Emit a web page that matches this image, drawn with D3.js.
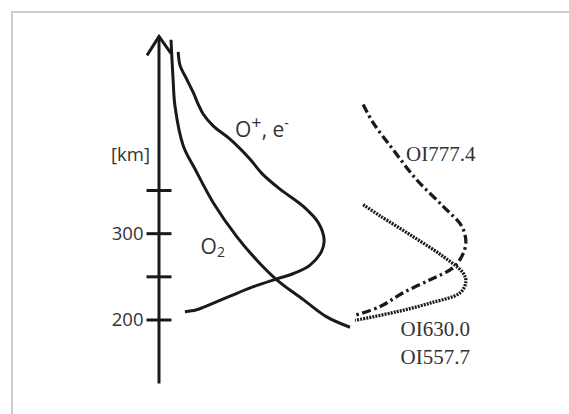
<!DOCTYPE html>
<html>
<head>
<meta charset="utf-8">
<script src="https://cdn.jsdelivr.net/npm/d3@7"></script>
<style>
    body {margin: 0; background: #fff;}
    svg {display: block;}
</style>
</head>
<body>
<div id="chart"></div>
<script>
// altitude axis (km)
const altitudeTicks = [200, 250, 300, 350];
const altitudeTickLabels = ["200", "", "300", ""];
const altitudeExtent = [126, 528];

// relative density / emission (arbitrary units) against altitude [value, km]
const o2Density = [[3.75, 524], [4.4, 478], [5.0, 447], [7.6, 401], [11.3, 374], [17.0, 335],
    [24.3, 296], [30.5, 269], [36.8, 246], [45.1, 223], [52.4, 203], [59.7, 191]];
const oPlusDensity = [[6.0, 510], [6.6, 494], [8.7, 478], [10.7, 463], [12.3, 449], [13.8, 438],
    [17.0, 424], [22.2, 409], [28.4, 386], [32.2, 369], [37.8, 351], [45.1, 331], [49.8, 312],
    [51.6, 292], [50.8, 279], [47.2, 263], [41.9, 253], [36.8, 247], [29.5, 238], [22.2, 227],
    [17.0, 219], [13.8, 214], [11.5, 211], [8.1, 209]];
const oi7774 = [[63.8, 449], [66.9, 428], [73.1, 397], [80.5, 362], [88.8, 331], [94.6, 308],
    [95.9, 289], [94.6, 273], [91.9, 260], [84.7, 246], [76.3, 231], [69.1, 215], [61.3, 205]];
const oi6300 = [[63.8, 333], [69.1, 320], [79.4, 296], [88.8, 273], [95, 254], [95.9, 244],
    [94.1, 231], [84.7, 219], [74.3, 209], [61.3, 199]];

const width = 569, height = 414;
const ink = "#1a1a1a", textInk = "#333";

let svg = d3.select("#chart").append("svg")
    .attr("width", width).attr("height", height)
    .style("font-family", "'Open Sans', sans-serif");

svg.append("rect").attr("width", width).attr("height", height).attr("fill", "#fff");

//Frame
svg.append("rect")
    .attr("x", 12).attr("y", 12)
    .attr("width", 600).attr("height", 600)
    .attr("fill", "none").attr("stroke", "#cdcdcd").attr("stroke-width", 2);

//Scales
let x = d3.scaleLinear().domain([0, 100]).range([159, 479]);
let y = d3.scaleLinear().domain([200, 350]).range([319.5, 190]);

//Axis line + open arrow head
const axisX = x(0);
svg.append("line")
    .attr("x1", axisX).attr("x2", axisX)
    .attr("y1", y(altitudeExtent[0])).attr("y2", y(altitudeExtent[1]))
    .attr("stroke", ink).attr("stroke-width", 3);

const tipY = y(altitudeExtent[1]);
svg.append("path")
    .attr("d", d3.line()([[axisX - 12, tipY + 19], [axisX, tipY], [axisX + 12, tipY + 17]]))
    .attr("fill", "none").attr("stroke", ink).attr("stroke-width", 3)
    .attr("stroke-linejoin", "miter");

//Ticks crossing the axis
let yAxis = d3.axisLeft(y).tickValues(altitudeTicks).tickSize(25).tickPadding(3)
    .tickFormat((d, i) => altitudeTickLabels[i]);

let axisG = svg.append("g").attr("transform", "translate(" + (axisX + 12.5) + ",0)").call(yAxis);
axisG.select(".domain").remove();
axisG.selectAll("line").attr("stroke", ink).attr("stroke-width", 3);
axisG.selectAll("text")
    .attr("font-family", "'Open Sans', sans-serif")
    .attr("font-size", "18.5px").attr("fill", textInk);

svg.append("text")
    .attr("x", 150).attr("y", y(384))
    .attr("text-anchor", "end").attr("font-size", "18.5px").attr("fill", textInk)
    .text("[km]");

//Curves
let line = d3.line()
    .x(d => x(d[0])).y(d => y(d[1]))
    .curve(d3.curveCatmullRom.alpha(0.5));

function addCurve(data, dash, w) {
    svg.append("path").datum(data)
        .attr("d", line)
        .attr("fill", "none")
        .attr("stroke", ink)
        .attr("stroke-width", w)
        .attr("stroke-dasharray", dash);
}

addCurve(o2Density, null, 3);
addCurve(oPlusDensity, null, 3);
addCurve(oi7774, "9,3.5,2.5,3.5", 3.3);
addCurve(oi6300, "2,1.1", 3.3);

//Species labels
let oLabel = svg.append("text")
    .attr("x", x(23.75)).attr("y", y(411))
    .attr("font-size", "21px").attr("fill", textInk);
oLabel.append("tspan").text("O");
oLabel.append("tspan").attr("font-size", "18px").attr("dy", -8).text("+");
oLabel.append("tspan").attr("dy", 8).text(", e");
oLabel.append("tspan").attr("font-size", "14px").attr("dy", -9).text("-");

let o2Label = svg.append("text")
    .attr("x", x(13)).attr("y", y(276))
    .attr("font-size", "21px").attr("fill", textInk);
o2Label.append("tspan").text("O");
o2Label.append("tspan").attr("font-size", "14px").attr("dy", 3).text("2");

//Emission labels
const serif = "'Liberation Serif', 'DejaVu Serif', serif";
svg.append("text").attr("x", x(77.2)).attr("y", y(383.5))
    .attr("font-family", serif).attr("font-size", "21px").attr("fill", textInk)
    .text("OI777.4");
svg.append("text").attr("x", x(75.5)).attr("y", y(181.4))
    .attr("font-family", serif).attr("font-size", "21px").attr("fill", textInk)
    .text("OI630.0");
svg.append("text").attr("x", x(75.5)).attr("y", y(148.8))
    .attr("font-family", serif).attr("font-size", "21px").attr("fill", textInk)
    .text("OI557.7");
</script>
</body>
</html>
